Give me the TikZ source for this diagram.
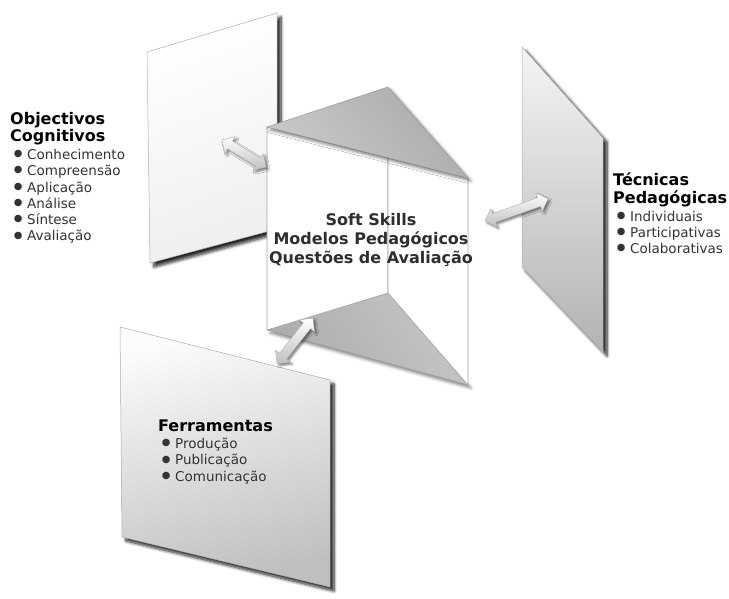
\documentclass[tikz,border=0pt]{standalone}
\usepackage{fontspec}
\setmainfont{DejaVu Sans}
\usetikzlibrary{shapes.arrows,shadows.blur}

\newcommand{\bul}{\makebox[17pt][l]{\hspace{0.5pt}\raisebox{-4.2pt}[0pt][0pt]{\scalebox{1.9}{\textbullet}}}}
\newcommand{\hd}{\fontsize{16}{16}\selectfont\bfseries\color{black}}

\tikzset{
  panelshadow/.style={blur shadow={shadow xshift=4pt, shadow yshift=-4pt,
      shadow blur radius=3pt, shadow blur steps=8, shadow opacity=85}},
  panel/.style={draw=gray!65, line width=0.5pt, panelshadow},
  face/.style={draw=gray!70, line width=0.6pt, fill=white},
  prismcap/.style={draw=gray!75, line width=0.6pt,
      blur shadow={shadow xshift=3pt, shadow yshift=-3pt, shadow blur radius=3pt, shadow opacity=50}},
  blockarrow/.style={double arrow, draw=gray!60, line width=0.4pt,
      inner xsep=0pt, inner ysep=4.4pt, text height=0pt, text depth=0pt,
      double arrow head extend=5pt, shading=axis,
      top color=white, bottom color=gray!50,
      blur shadow={shadow xshift=2pt, shadow yshift=-2pt, shadow blur radius=2pt, shadow opacity=50}},
  listblock/.style={anchor=north west, inner sep=0pt, align=left,
      font=\fontsize{13.5}{16.3}\selectfont, text=black!80},
  centertext/.style={inner sep=0pt, align=center,
      font=\fontsize{16}{19.3}\selectfont\bfseries, text=black!82}
}

\begin{document}
\begin{tikzpicture}[x=1pt,y=-1pt]
\useasboundingbox (0,0) rectangle (729,599);

% ---- left panel (Objectivos Cognitivos)
\path[panel, shading=axis, top color=white, bottom color=gray!13, shading angle=20]
  (147,52) coordinate (L1) -- (277,13) coordinate (L2) -- (277,229) coordinate (L3)
  -- (150,263) coordinate (L4) -- cycle;

% ---- right panel (Tecnicas Pedagogicas)
\path[panel, shading=axis, top color=gray!8, bottom color=gray!60]
  (522,47) coordinate (R1) -- (603,138) coordinate (R2) -- (603,352) coordinate (R3)
  -- (522,267) coordinate (R4) -- cycle;

% ---- bottom panel (Ferramentas)
\path[panel, shading=axis, top color=gray!3, bottom color=gray!50, shading angle=15]
  (120,327) coordinate (F1) -- (330,380) coordinate (F2) -- (330,587) coordinate (F3)
  -- (122,537) coordinate (F4) -- cycle;

% ---- central prism
\coordinate (T1) at (267,127);
\coordinate (TA) at (388,87);
\coordinate (T2) at (468,178);
\coordinate (M)  at (388,158);
\coordinate (B1) at (267,330);
\coordinate (BA) at (388,293);
\coordinate (B2) at (468,385);

\path[prismcap, shading=axis, top color=gray!45, bottom color=gray!65, shading angle=-60]
  (B1) -- (BA) -- (B2) -- cycle;
\path[face] (T1) -- (M) -- (BA) -- (B1) -- cycle;
\path[face] (M) -- (T2) -- (B2) -- (BA) -- cycle;
\path[prismcap, shading=axis, top color=gray!66, bottom color=gray!42, shading angle=-50]
  (T1) -- (TA) -- (T2) -- cycle;

% ---- texts
\node[centertext] (core) at (371,240)
  {Soft Skills\\Modelos Pedagógicos\\Questões de Avaliação};

\node[listblock] (obj) at (10,112)
  {{\hd Objectivos}\\[0.5pt]
   {\hd Cognitivos}\\[2pt]
   \bul Conhecimento\\
   \bul Compreensão\\
   \bul Aplicação\\
   \bul Análise\\
   \bul Síntese\\
   \bul Avaliação};

\node[listblock] (tec) at (613,173)
  {{\hd Técnicas}\\[1.5pt]
   {\hd Pedagógicas}\\[1pt]
   \bul Individuais\\
   \bul Participativas\\
   \bul Colaborativas};

\node[listblock] (fer) at (158,420)
  {{\hd Ferramentas}\\[0.5pt]
   \bul Produção\\
   \bul Publicação\\
   \bul Comunicação};

% ---- double-headed block arrows between the panels and the prism
\node[blockarrow, minimum height=52pt, rotate=-31.5] (arL) at (244,153.5) {};
\node[blockarrow, minimum height=67pt, rotate=19.3] (arR) at (516.5,210) {};
\node[blockarrow, minimum height=58pt, rotate=51.9] (arB) at (295,341) {};

\end{tikzpicture}
\end{document}
